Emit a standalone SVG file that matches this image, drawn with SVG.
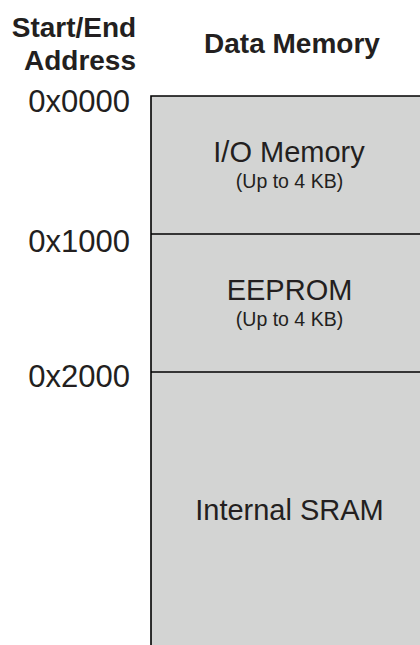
<svg xmlns="http://www.w3.org/2000/svg" width="420" height="645" viewBox="0 0 420 645">
<style>
.h{font-family:"Liberation Sans",Arial,sans-serif;font-weight:bold;font-size:28px;fill:#231f20;text-anchor:middle}
.a{font-family:"Liberation Sans",Arial,sans-serif;font-size:31px;fill:#231f20;text-anchor:end}
.t{font-family:"Liberation Sans",Arial,sans-serif;font-size:29px;fill:#231f20;text-anchor:middle}
.s{font-family:"Liberation Sans",Arial,sans-serif;font-size:19.5px;fill:#231f20;text-anchor:middle}
.b{fill:#d3d4d3;stroke:none}
.ln{stroke:#000;stroke-width:1.6;fill:none}
</style>
<rect width="420" height="645" fill="#fff"/>
<text class="h" x="74" y="37">Start/End</text>
<text class="h" x="80" y="70">Address</text>
<text class="h" x="292" y="53">Data Memory</text>
<text class="a" x="130" y="111.5">0x0000</text>
<text class="a" x="130" y="251.5">0x1000</text>
<text class="a" x="130" y="386.5">0x2000</text>
<g id="io">
<rect class="b" x="151" y="96" width="269" height="138"/>
<text class="t" x="289" y="162">I/O Memory</text>
<text class="s" x="289.5" y="188">(Up to 4 KB)</text>
</g>
<g id="eeprom">
<rect class="b" x="151" y="234" width="269" height="138"/>
<text class="t" x="289.5" y="300">EEPROM</text>
<text class="s" x="289.5" y="326">(Up to 4 KB)</text>
</g>
<g id="sram">
<rect class="b" x="151" y="372" width="269" height="273"/>
<text class="t" x="289.5" y="520">Internal SRAM</text>
</g>
<g id="connectors">
<path class="ln" d="M420,96 H151 V645"/>
<path class="ln" d="M151,234 H420"/>
<path class="ln" d="M151,372 H420"/>
</g>
</svg>
